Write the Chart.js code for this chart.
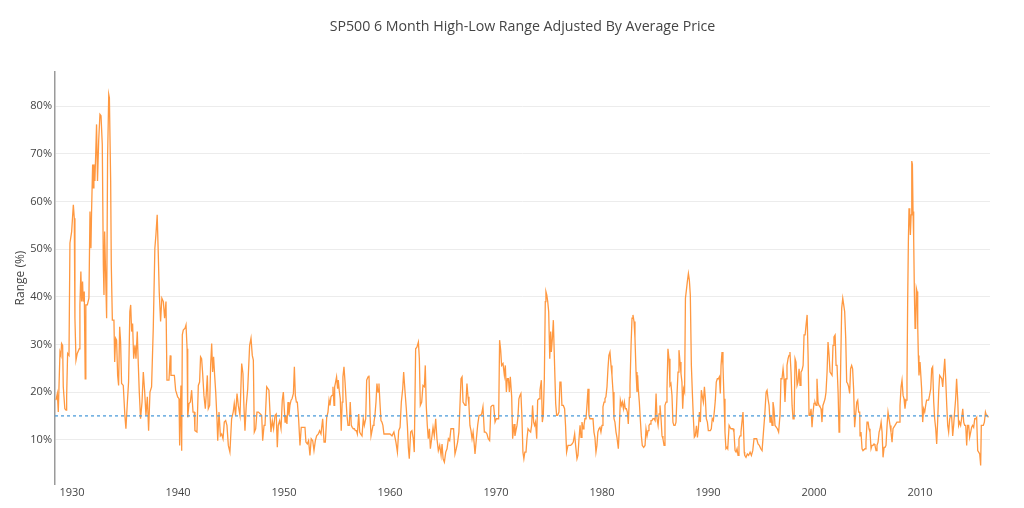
<!DOCTYPE html>
<html>
<head>
<meta charset="utf-8">
<title>SP500 6 Month High-Low Range</title>
<script src="https://cdn.jsdelivr.net/npm/chart.js@4.4.1/dist/chart.umd.min.js"></script>
<style>
    html, body { margin: 0; padding: 0; background: #fff; }
    #wrap { position: relative; width: 1024px; height: 508px; }
    #chartTitle {
        position: absolute; left: 55px; width: 935px; top: 16px;
        text-align: center; font-family: 'Open Sans', sans-serif;
        font-size: 14.2px; line-height: 20px; color: #444;
    }
</style>
</head>
<body>
<div id="wrap">
    <canvas id="rangeChart" width="1024" height="508"></canvas>
    <div id="chartTitle"></div>
</div>
<script>
// [decimal year, 6 month high-low range in %]
const range1928to1939 = [
    [1928.49,18.3],[1928.62,19.7],[1928.71,15.8],[1928.87,28.4],[1928.96,27.7],[1929.02,30.2],[1929.12,29.8],[1929.18,21.1],[1929.33,16.5],[1929.44,16.2],
    [1929.50,19.3],[1929.59,28.1],[1929.72,27.7],[1929.81,51.3],[1929.97,53.7],[1930.13,59.3],[1930.22,56.5],[1930.28,35.5],[1930.38,26.7],[1930.50,28.1],
    [1930.69,29.1],[1930.75,38.3],[1930.84,45.3],[1930.91,39.0],[1931.00,43.2],[1931.06,39.0],[1931.16,41.1],[1931.25,22.8],[1931.31,38.3],[1931.45,38.3],
    [1931.60,39.7],[1931.70,57.9],[1931.79,50.2],[1931.85,57.9],[1931.95,67.8],[1932.01,62.9],[1932.07,67.8],[1932.16,64.3],[1932.23,69.2],[1932.32,76.2],
    [1932.41,64.3],[1932.52,72.7],[1932.64,78.3],[1932.74,78.0],[1932.86,72.0],[1932.96,46.7],[1933.02,40.4],[1933.08,53.7],[1933.17,45.3],[1933.27,35.5],
    [1933.36,69.2],[1933.47,82.5],[1933.53,81.8],[1933.65,64.3],[1933.71,46.7],[1933.81,35.1],[1933.96,35.1],[1934.03,26.3],[1934.12,31.3],[1934.21,30.9],
    [1934.31,23.5],[1934.40,21.4],[1934.50,33.7],[1934.59,30.5],[1934.68,21.8],[1934.84,21.4],[1934.99,15.1],[1935.09,12.3],[1935.21,17.2],[1935.34,22.1],
    [1935.46,36.9],[1935.54,38.3],[1935.63,32.7],[1935.72,34.4],[1935.82,27.0],[1935.94,29.8],[1936.04,27.0],[1936.16,32.7],[1936.25,26.3],[1936.35,20.0],
    [1936.47,14.4],[1936.61,17.9],[1936.73,24.2],[1936.86,20.0],[1936.98,15.1],[1937.11,19.0],[1937.23,11.9],[1937.36,20.0],[1937.51,21.1],[1937.67,33.4],
    [1937.82,50.2],[1937.92,53.0],[1938.04,57.2],[1938.14,49.2],[1938.23,41.1],[1938.36,34.8],[1938.48,39.7],[1938.62,39.0],[1938.74,35.5],[1938.87,39.0],
    [1938.96,22.5],[1939.15,22.5]
];

const range1939to1950 = [
    [1939.27,27.7],[1939.34,23.5],[1939.46,23.5],[1939.66,23.5],[1939.78,20.4],[1939.97,19.0],[1940.10,18.6],[1940.16,8.8],[1940.28,21.4],[1940.35,7.7],
    [1940.41,32.0],[1940.50,33.0],[1940.67,33.4],[1940.76,34.1],[1940.86,29.1],[1940.92,14.7],[1941.04,17.6],[1941.17,17.9],[1941.29,20.4],[1941.42,15.8],
    [1941.54,15.8],[1941.60,11.9],[1941.79,11.6],[1941.92,21.4],[1942.04,22.1],[1942.13,27.4],[1942.23,27.0],[1942.32,24.2],[1942.45,19.3],[1942.58,16.5],
    [1942.68,20.0],[1942.77,23.5],[1942.86,16.5],[1942.99,17.2],[1943.08,25.6],[1943.18,30.2],[1943.27,24.2],[1943.36,27.4],[1943.46,23.5],[1943.56,20.0],
    [1943.68,14.4],[1943.75,9.8],[1943.87,15.8],[1944.00,10.8],[1944.12,11.2],[1944.25,10.2],[1944.37,13.7],[1944.50,14.0],[1944.62,13.0],[1944.75,8.8],
    [1944.90,7.4],[1945.06,14.4],[1945.21,15.8],[1945.31,17.6],[1945.43,15.1],[1945.57,19.7],[1945.69,17.2],[1945.85,15.1],[1946.01,26.0],[1946.13,23.9],
    [1946.22,17.2],[1946.32,11.9],[1946.44,17.2],[1946.58,20.7],[1946.76,29.8],[1946.89,31.3],[1947.01,27.7],[1947.11,26.7],[1947.20,11.6],[1947.33,12.3],
    [1947.45,15.8],[1947.59,15.8],[1947.77,15.4],[1947.90,15.1],[1947.99,9.8],[1948.12,13.0],[1948.21,13.0],[1948.37,21.1],[1948.58,20.4],[1948.77,11.6],
    [1948.90,14.0],[1949.02,12.3],[1949.15,15.1],[1949.27,15.4],[1949.37,8.4],[1949.46,13.0],[1949.59,14.0],[1949.72,12.3],[1949.84,18.3],[1949.94,20.0],
    [1950.03,16.5]
];

const range1950to1961 = [
    [1950.10,13.7],[1950.19,15.1],[1950.28,13.3],[1950.38,17.9],[1950.47,15.1],[1950.56,17.2],[1950.67,18.3],[1950.76,18.6],[1950.89,19.7],[1950.98,25.3],
    [1951.07,19.3],[1951.17,17.9],[1951.26,17.9],[1951.38,14.4],[1951.51,8.8],[1951.63,12.6],[1951.82,12.6],[1951.98,12.6],[1952.07,9.5],[1952.20,9.1],
    [1952.32,9.8],[1952.45,6.7],[1952.57,10.2],[1952.71,9.8],[1952.83,7.7],[1952.96,9.8],[1953.08,10.8],[1953.24,11.2],[1953.36,11.9],[1953.49,11.2],
    [1953.65,14.4],[1953.78,9.5],[1953.90,9.5],[1954.03,14.7],[1954.15,15.8],[1954.25,18.3],[1954.34,17.2],[1954.43,19.0],[1954.53,19.3],[1954.62,21.1],
    [1954.72,17.2],[1954.78,21.1],[1954.87,22.1],[1954.96,23.2],[1955.06,20.7],[1955.12,22.5],[1955.21,20.4],[1955.31,18.6],[1955.40,11.9],[1955.49,17.9],
    [1955.56,23.2],[1955.66,25.3],[1955.76,22.1],[1955.85,22.1],[1955.94,15.1],[1956.04,13.0],[1956.16,13.0],[1956.25,17.9],[1956.35,13.0],[1956.44,12.6],
    [1956.54,12.3],[1956.64,12.3],[1956.73,11.9],[1956.83,11.9],[1956.92,11.2],[1957.05,15.4],[1957.14,11.6],[1957.23,11.2],[1957.36,10.8],[1957.48,14.4],
    [1957.58,13.0],[1957.71,14.4],[1957.80,22.5],[1957.93,23.2],[1958.02,23.5],[1958.12,15.1],[1958.21,10.8],[1958.30,10.8],[1958.40,13.0],[1958.49,13.7],
    [1958.58,15.1],[1958.68,17.9],[1958.77,21.8],[1958.87,20.0],[1958.96,21.8],[1959.05,17.9],[1959.15,14.0],[1959.24,13.7],[1959.33,13.0],[1959.43,11.2],
    [1959.55,11.2],[1959.69,11.2],[1959.84,11.2],[1960.00,11.2],[1960.19,10.8],[1960.37,11.6],[1960.56,9.5],[1960.70,7.4],[1960.82,11.9],[1960.95,12.6]
];

const range1961to1972 = [
    [1961.07,17.9],[1961.20,20.7],[1961.29,24.2],[1961.42,20.0],[1961.54,16.5],[1961.64,13.0],[1961.73,8.4],[1961.82,6.0],[1961.95,11.6],[1962.07,11.9],
    [1962.20,10.2],[1962.29,7.4],[1962.42,29.1],[1962.54,29.4],[1962.68,30.5],[1962.77,27.0],[1962.86,17.2],[1962.99,17.9],[1963.11,21.4],[1963.24,21.1],
    [1963.33,25.6],[1963.42,17.2],[1963.52,13.0],[1963.61,10.2],[1963.72,12.3],[1963.81,8.1],[1963.93,10.2],[1964.06,12.6],[1964.18,10.8],[1964.31,14.4],
    [1964.43,10.2],[1964.56,7.7],[1964.69,8.8],[1964.82,6.7],[1964.91,9.1],[1965.01,6.0],[1965.13,5.3],[1965.26,7.4],[1965.38,8.1],[1965.51,10.2],
    [1965.63,9.8],[1965.75,12.3],[1965.88,12.3],[1966.00,12.3],[1966.13,7.0],[1966.25,8.1],[1966.38,9.5],[1966.50,11.6],[1966.60,17.2],[1966.70,22.8],
    [1966.80,23.2],[1966.89,17.9],[1966.98,17.9],[1967.08,17.2],[1967.17,17.9],[1967.26,21.8],[1967.36,19.0],[1967.45,17.2],[1967.54,13.0],[1967.64,11.9],
    [1967.74,10.2],[1967.84,11.6],[1967.93,9.5],[1968.02,7.0],[1968.15,10.2],[1968.27,13.0],[1968.40,15.1],[1968.52,15.1],[1968.65,15.4],[1968.77,16.9],
    [1968.90,11.6],[1969.02,11.6],[1969.15,11.2],[1969.27,10.2],[1969.40,9.8],[1969.52,16.9],[1969.65,17.2],[1969.78,17.2],[1969.91,13.7],[1970.03,14.4],
    [1970.16,14.4],[1970.25,14.4],[1970.34,30.9],[1970.44,28.8],[1970.53,25.6],[1970.66,26.0],[1970.79,23.5],[1970.88,25.6],[1970.98,20.0],[1971.07,22.8],
    [1971.17,22.8],[1971.26,20.0],[1971.35,23.2],[1971.48,19.0],[1971.57,10.2],[1971.70,13.3]
];

const range1972to1983 = [
    [1971.79,10.8],[1971.88,11.9],[1971.98,13.0],[1972.07,14.7],[1972.16,18.6],[1972.26,19.3],[1972.35,19.7],[1972.44,15.1],[1972.54,7.4],[1972.63,6.0],
    [1972.72,7.4],[1972.83,7.4],[1972.92,10.2],[1973.02,12.3],[1973.14,11.9],[1973.27,11.6],[1973.36,13.0],[1973.45,17.2],[1973.55,13.7],[1973.64,13.0],
    [1973.73,13.7],[1973.84,10.2],[1973.93,18.3],[1974.06,18.6],[1974.15,20.4],[1974.28,22.5],[1974.37,13.7],[1974.46,15.1],[1974.56,22.8],[1974.65,39.0],
    [1974.71,41.1],[1974.79,40.4],[1974.88,39.0],[1974.97,36.9],[1975.07,27.0],[1975.16,32.7],[1975.22,28.4],[1975.32,31.3],[1975.41,35.1],[1975.50,27.7],
    [1975.63,17.6],[1975.72,15.1],[1975.81,15.1],[1975.94,15.8],[1976.03,22.1],[1976.13,22.1],[1976.22,17.2],[1976.35,17.2],[1976.47,16.5],[1976.56,13.0],
    [1976.66,7.4],[1976.79,8.8],[1976.92,8.8],[1977.04,8.8],[1977.17,9.1],[1977.29,9.5],[1977.42,11.2],[1977.51,8.8],[1977.64,6.0],[1977.73,6.7],
    [1977.83,10.2],[1977.93,13.0],[1978.02,10.5],[1978.11,13.7],[1978.21,12.3],[1978.30,13.0],[1978.39,14.4],[1978.49,14.4],[1978.58,17.2],[1978.68,20.7],
    [1978.77,15.1],[1978.86,14.4],[1978.96,14.4],[1979.05,14.4],[1979.15,14.4],[1979.24,11.6],[1979.33,10.5],[1979.43,7.4],[1979.52,8.8],[1979.61,11.6],
    [1979.71,12.3],[1979.81,12.6],[1979.90,11.6],[1980.00,13.0],[1980.09,16.9],[1980.19,17.9],[1980.28,18.6],[1980.37,19.0],[1980.47,21.1],[1980.56,24.9],
    [1980.65,27.7],[1980.75,28.4],[1980.85,25.6],[1980.94,23.5],[1981.04,20.0],[1981.13,14.4],[1981.22,13.7],[1981.32,11.6],[1981.41,10.5],[1981.54,8.1],
    [1981.63,12.3],[1981.73,18.3],[1981.83,17.2],[1981.92,17.9],[1982.02,16.5],[1982.11,17.9],[1982.20,16.5],[1982.30,16.5],[1982.39,15.8],[1982.48,13.3],
    [1982.58,18.9]
];

const range1983to1993 = [
    [1982.64,21.4],[1982.74,29.8],[1982.83,35.5],[1982.92,36.2],[1983.02,34.8],[1983.11,31.3],[1983.21,24.2],[1983.30,20.0],[1983.36,23.5],[1983.42,20.7],
    [1983.52,17.9],[1983.61,14.4],[1983.71,10.8],[1983.80,8.8],[1983.93,8.4],[1984.06,8.8],[1984.15,12.3],[1984.25,10.8],[1984.34,11.9],[1984.43,13.0],
    [1984.53,13.3],[1984.62,14.0],[1984.71,14.0],[1984.81,14.4],[1984.91,14.4],[1985.01,14.0],[1985.10,19.7],[1985.19,14.4],[1985.29,13.0],[1985.38,15.4],
    [1985.47,17.2],[1985.57,14.4],[1985.66,10.8],[1985.75,10.2],[1985.85,8.8],[1985.94,17.2],[1986.04,17.9],[1986.13,20.7],[1986.22,29.1],[1986.32,27.0],
    [1986.41,21.4],[1986.50,21.8],[1986.60,19.3],[1986.69,13.7],[1986.78,13.0],[1986.89,13.0],[1986.98,13.7],[1987.08,19.7],[1987.17,24.2],[1987.26,28.8],
    [1987.36,26.3],[1987.45,23.9],[1987.54,22.1],[1987.61,16.5],[1987.70,20.7],[1987.79,20.0],[1987.87,39.7],[1987.96,41.4],[1988.05,43.2],[1988.15,44.9],
    [1988.24,43.5],[1988.33,40.4],[1988.43,25.6],[1988.52,20.0],[1988.62,14.4],[1988.71,10.5],[1988.80,10.8],[1988.91,12.9],[1989.00,10.5],[1989.09,12.3],
    [1989.19,15.8],[1989.28,13.7],[1989.37,20.4],[1989.47,19.0],[1989.56,17.9],[1989.66,21.1],[1989.75,18.6],[1989.84,14.4],[1989.94,13.7],[1990.03,11.9],
    [1990.12,11.9],[1990.22,11.9],[1990.31,12.3],[1990.40,14.4],[1990.50,14.0],[1990.59,15.8],[1990.69,18.3],[1990.78,22.1],[1990.88,22.8],[1990.98,22.8],
    [1991.07,23.2],[1991.16,19.7],[1991.23,25.6],[1991.32,28.4],[1991.41,25.6],[1991.51,18.6],[1991.60,11.6],[1991.69,8.1],[1991.79,8.4],[1991.86,8.1],
    [1991.99,13.0],[1992.08,12.6],[1992.17,12.3],[1992.27,12.3],[1992.36,12.3],[1992.45,11.6],[1992.55,7.7],[1992.64,7.4],[1992.74,8.1],[1992.83,6.7],
    [1992.92,10.2],[1993.02,10.8],[1993.11,11.6],[1993.20,13.7],[1993.30,15.8],[1993.42,7.4]
];

const range1993to2004 = [
    [1993.46,6.7],[1993.58,6.3],[1993.71,7.0],[1993.83,6.7],[1993.97,7.4],[1994.09,6.7],[1994.22,7.7],[1994.34,10.2],[1994.47,10.2],[1994.59,10.2],
    [1994.72,9.1],[1994.84,8.8],[1994.98,8.1],[1995.10,7.7],[1995.23,11.6],[1995.35,15.1],[1995.48,20.0],[1995.57,20.4],[1995.66,18.6],[1995.76,17.2],
    [1995.85,13.7],[1995.94,15.1],[1996.04,13.0],[1996.13,17.9],[1996.22,16.5],[1996.32,13.0],[1996.41,13.0],[1996.54,12.3],[1996.66,11.6],[1996.79,15.1],
    [1996.88,22.8],[1996.98,22.8],[1997.08,24.9],[1997.17,22.8],[1997.26,17.9],[1997.36,22.8],[1997.45,25.6],[1997.55,27.0],[1997.64,27.7],[1997.73,28.4],
    [1997.83,24.2],[1997.93,17.2],[1998.02,14.4],[1998.12,14.4],[1998.21,27.0],[1998.30,26.3],[1998.40,21.4],[1998.49,22.1],[1998.59,24.9],[1998.68,21.4],
    [1998.77,24.2],[1998.87,24.6],[1998.97,25.6],[1999.06,32.0],[1999.16,32.0],[1999.25,34.1],[1999.35,36.2],[1999.44,27.7],[1999.53,15.1],[1999.63,15.1],
    [1999.72,16.5],[1999.81,12.6],[1999.91,15.8],[2000.00,17.6],[2000.09,17.9],[2000.19,17.2],[2000.28,22.8],[2000.38,17.9],[2000.47,17.2],[2000.56,16.9],
    [2000.66,16.5],[2000.75,13.7],[2000.84,17.2],[2000.95,17.9],[2001.04,18.6],[2001.13,20.0],[2001.23,24.2],[2001.32,30.5],[2001.42,27.7],[2001.51,24.2],
    [2001.60,24.2],[2001.70,23.5],[2001.79,29.8],[2001.88,31.6],[2001.99,32.0],[2002.08,25.6],[2002.17,25.6],[2002.27,20.0],[2002.36,11.6],[2002.42,13.0],
    [2002.52,26.3],[2002.61,37.6],[2002.71,39.7],[2002.80,38.3],[2002.89,36.9],[2002.99,31.3],[2003.08,22.1],[2003.17,21.8],[2003.27,21.1],[2003.36,19.7],
    [2003.45,24.9],[2003.55,25.6],[2003.64,24.9],[2003.74,20.4],[2003.83,12.6],[2003.92,15.1],[2004.03,17.9],[2004.12,18.3],[2004.21,15.8],[2004.31,15.8]
];

const range2004to2016 = [
    [2004.34,10.8],[2004.43,11.6],[2004.53,8.1],[2004.62,7.7],[2004.71,7.7],[2004.81,8.1],[2004.90,9.5],[2005.00,13.7],[2005.10,13.7],[2005.19,12.3],
    [2005.28,11.6],[2005.38,8.1],[2005.47,8.8],[2005.57,8.8],[2005.66,9.1],[2005.75,8.8],[2005.85,7.7],[2005.94,8.8],[2006.04,9.5],[2006.14,11.6],
    [2006.23,12.3],[2006.33,13.7],[2006.42,11.6],[2006.51,6.3],[2006.61,8.4],[2006.70,8.4],[2006.79,8.8],[2006.89,13.0],[2006.98,15.8],[2007.07,15.8],
    [2007.17,13.0],[2007.26,11.6],[2007.36,9.5],[2007.45,12.3],[2007.54,12.3],[2007.64,13.0],[2007.73,13.0],[2007.82,13.7],[2007.92,13.7],[2008.02,13.7],
    [2008.11,17.2],[2008.21,21.1],[2008.30,22.5],[2008.40,19.3],[2008.49,18.6],[2008.58,16.5],[2008.68,18.3],[2008.77,22.1],[2008.83,38.3],[2008.90,51.6],
    [2008.96,58.6],[2009.03,56.5],[2009.09,53.0],[2009.16,57.2],[2009.22,68.5],[2009.28,67.8],[2009.34,57.9],[2009.40,52.3],[2009.47,40.4],[2009.53,33.4],
    [2009.59,34.1],[2009.65,41.8],[2009.72,41.1],[2009.78,34.1],[2009.84,27.7],[2009.90,23.5],[2010.00,26.3],[2010.09,26.3],[2010.15,20.7],[2010.25,13.7],
    [2010.34,16.5],[2010.44,15.8],[2010.53,17.2],[2010.62,18.3],[2010.72,18.3],[2010.81,18.3],[2010.90,19.3],[2011.01,20.7],[2011.10,24.9],[2011.19,25.3],
    [2011.29,17.9],[2011.38,14.4],[2011.48,12.3],[2011.57,9.1],[2011.66,13.7],[2011.76,20.0],[2011.85,23.5],[2011.94,23.2],[2012.05,22.8],[2012.14,21.1],
    [2012.23,23.9],[2012.33,27.0],[2012.42,22.8],[2012.52,17.2],[2012.61,13.0],[2012.70,11.6],[2012.80,14.4],[2012.89,15.1],[2012.98,15.1],[2013.08,10.8],
    [2013.17,13.0],[2013.26,15.8],[2013.36,18.6],[2013.45,22.8],[2013.55,18.6],[2013.64,13.0],[2013.73,13.7],[2013.83,13.0],[2013.92,14.4],[2014.03,16.5],
    [2014.12,13.7],[2014.21,13.0],[2014.31,13.0],[2014.40,8.8],[2014.49,13.0],[2014.59,13.0],[2014.68,10.5],[2014.78,11.6],[2014.87,12.6],[2014.96,13.0],
    [2015.06,12.6],[2015.16,14.4],[2015.25,14.4],[2015.34,14.7],[2015.44,7.7],[2015.53,7.4],[2015.63,7.0],[2015.72,4.6],[2015.78,13.0],[2015.88,13.0],
    [2015.97,13.0],[2016.07,13.7],[2016.17,15.8],[2016.26,15.1],[2016.35,15.1],[2016.45,14.7]
];

const averageLine = 15;            // dashed reference level, %
const xRange = [1928.40, 2016.60];  // years shown on the axis
const yRange = [0.7, 87.2];         // % shown on the axis

const chartTitle = 'SP500 6 Month High-Low Range Adjusted By Average Price';
const yTitle = 'Range (%)';

function buildSeries() {
    const all = [].concat(range1928to1939, range1939to1950, range1950to1961, range1961to1972,
        range1972to1983, range1983to1993, range1993to2004, range2004to2016);
    return all.map(p => ({ x: p[0], y: p[1] }));
}

Chart.defaults.font.family = "'Open Sans', 'Noto Sans', sans-serif";
Chart.defaults.color = '#444';

document.getElementById('chartTitle').textContent = chartTitle;

const ctx = document.getElementById('rangeChart').getContext('2d');
const tickFont = { family: "'Open Sans', sans-serif", size: 11 };

new Chart(ctx, {
    type: 'line',
    data: {
        datasets: [
            {
                label: 'Average',
                data: [{ x: xRange[0], y: averageLine }, { x: xRange[1], y: averageLine }],
                borderColor: '#4f9ddb',
                borderWidth: 1.3,
                borderDash: [3, 3],
                pointRadius: 0,
                order: 0
            },
            {
                label: 'Range',
                data: buildSeries(),
                borderColor: 'rgb(255,152,64)',
                borderWidth: 1.3,
                pointRadius: 0,
                tension: 0,
                order: 1
            }
        ]
    },
    options: {
        responsive: false,
        animation: false,
        devicePixelRatio: 1,
        layout: { padding: { left: 0, right: 34, top: 72, bottom: 0 } },
        plugins: {
            legend: { display: false },
            tooltip: { enabled: false },
            title: { display: false }
        },
        scales: {
            x: {
                type: 'linear',
                min: xRange[0],
                max: xRange[1],
                afterFit: s => { s.height = 24; },
                grid: { display: false, drawTicks: false },
                border: { display: false },
                ticks: {
                    stepSize: 10,
                    includeBounds: false,
                    autoSkip: false,
                    maxRotation: 0,
                    padding: 2,
                    color: '#444',
                    font: tickFont,
                    callback: v => String(v)
                }
            },
            y: {
                min: yRange[0],
                max: yRange[1],
                afterFit: s => { s.width = 55; },
                grid: { color: '#ececec', lineWidth: 1, drawTicks: false },
                border: { display: true, color: '#9a9a9a', width: 1.5 },
                ticks: {
                    stepSize: 10,
                    includeBounds: false,
                    padding: 3,
                    color: '#444',
                    font: tickFont,
                    callback: v => v + '%'
                },
                title: {
                    display: true,
                    text: yTitle,
                    color: '#444',
                    font: { family: "'Open Sans', sans-serif", size: 12 },
                    padding: { top: 13, bottom: 0 }
                }
            }
        }
    }
});
</script>
</body>
</html>
